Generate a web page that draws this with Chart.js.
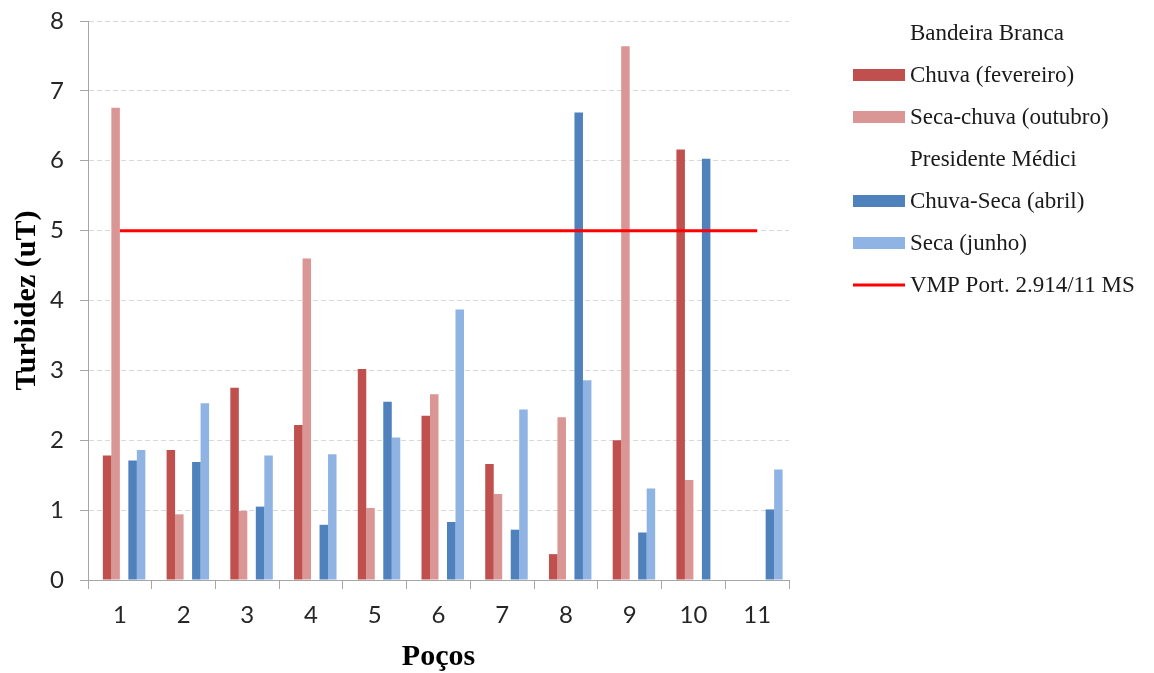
<!DOCTYPE html>
<html>
<head>
<meta charset="utf-8">
<script src="https://cdn.jsdelivr.net/npm/chart.js@4"></script>
<style>
  html, body { margin: 0; padding: 0; background: #fff; }
  #wrap { width: 1154px; height: 673px; position: relative; }
</style>
</head>
<body>
<div id="wrap"><canvas id="turbidezChart"></canvas></div>
<script>
// ==========================
// DADOS
// ==========================
const pocos = ['1', '2', '3', '4', '5', '6', '7', '8', '9', '10', '11'];

// Bandeira Branca
const chuvaFevereiro = [1.78, 1.86, 2.75, 2.22, 3.02, 2.35, 1.66, 0.37, 2.00, 6.16, null];
const secaChuvaOutubro = [6.76, 0.94, 0.99, 4.60, 1.03, 2.66, 1.23, 2.33, 7.64, 1.43, null];

// Presidente Médici
const chuvaSecaAbril = [1.71, 1.69, 1.05, 0.79, 2.55, 0.83, 0.72, 6.69, 0.68, 6.03, 1.01];
const secaJunho = [1.86, 2.53, 1.78, 1.80, 2.04, 3.87, 2.44, 2.86, 1.31, null, 1.58];

// valor máximo permitido
const vmp = pocos.map(() => 5);

const yTicks = [0, 1, 2, 3, 4, 5, 6, 7, 8];

const vazio = pocos.map(() => null);


// ==========================
// LEGENDA
// ==========================
const legendaPlugin = {
    id: 'legenda',
    afterDraw(chart) {
        const ctx = chart.ctx;
        const x0 = chart.chartArea.right + 64;
        let y = 33;
        ctx.save();
        ctx.font = '23px "Liberation Serif"';
        ctx.textBaseline = 'middle';
        ctx.textAlign = 'left';
        chart.data.datasets.forEach(ds => {
            if (ds.type === 'line') {
                ctx.strokeStyle = ds.borderColor;
                ctx.lineWidth = 3;
                ctx.beginPath();
                ctx.moveTo(x0, y);
                ctx.lineTo(x0 + 52, y);
                ctx.stroke();
            } else if (ds.data.some(v => v !== null)) {
                ctx.fillStyle = ds.backgroundColor;
                ctx.fillRect(x0, y - 6, 52, 12);
            }
            ctx.fillStyle = '#1a1a1a';
            ctx.fillText(ds.label, x0 + 57, y + 1);
            y += 42;
        });
        ctx.restore();
    }
};


// ==========================
// GRAFICO
// ==========================
const ctx = document.getElementById('turbidezChart').getContext('2d');

const turbidezChart = new Chart(ctx, {

    type: 'bar',

    data: {

        labels: pocos,

        datasets: [
            { label: 'Bandeira Branca', data: vazio, backgroundColor: 'rgba(0,0,0,0)' },
            { label: 'Chuva (fevereiro)', data: chuvaFevereiro, backgroundColor: '#C0504D' },
            { label: 'Seca-chuva (outubro)', data: secaChuvaOutubro, backgroundColor: '#D99694' },
            { label: 'Presidente Médici', data: vazio, backgroundColor: 'rgba(0,0,0,0)' },
            { label: 'Chuva-Seca (abril)', data: chuvaSecaAbril, backgroundColor: '#4F81BD' },
            { label: 'Seca (junho)', data: secaJunho, backgroundColor: '#8FB4E3' },
            {
                type: 'line',
                label: 'VMP Port. 2.914/11 MS',
                data: vmp,
                borderColor: '#FF0000',
                borderWidth: 3,
                pointRadius: 0,
                fill: false,
                order: -1
            }
        ]

    },

    options: {

        responsive: true,

        maintainAspectRatio: false,

        animation: false,

        layout: {
            padding: { top: 21, right: 365, left: 0, bottom: 0 }
        },

        datasets: {
            bar: { categoryPercentage: 0.8, barPercentage: 1.0 }
        },

        plugins: {
            legend: { display: false },
            tooltip: { enabled: false }
        },

        scales: {

            x: {
                afterFit: (scale) => { scale.height = 93; },
                grid: {
                    offset: true,
                    drawOnChartArea: false,
                    drawTicks: true,
                    tickLength: 9,
                    tickColor: '#A6A6A6'
                },
                border: { color: '#A6A6A6', width: 1 },
                ticks: {
                    color: '#262626',
                    padding: 12,
                    font: { family: 'Lato', size: 24 }
                },
                title: {
                    display: true,
                    text: 'Poços',
                    color: '#000',
                    padding: { top: 0, bottom: 1 },
                    font: { family: 'Liberation Serif', size: 30, weight: 'bold', lineHeight: 1 }
                }
            },

            y: {
                min: 0,
                max: 8,
                afterFit: (scale) => {
                    scale.width = 88;
                    scale.paddingTop = 0;
                    scale.paddingBottom = 0;
                },
                afterBuildTicks: (scale) => {
                    scale.ticks = yTicks.map(v => ({ value: v }));
                },
                grid: {
                    color: '#D9D9D9',
                    lineWidth: 1,
                    tickLength: 8,
                    tickColor: '#A6A6A6',
                    tickBorderDash: []
                },
                border: { color: '#A6A6A6', width: 1, dash: [5, 3] },
                ticks: {
                    color: '#262626',
                    padding: 16,
                    font: { family: 'Lato', size: 24 }
                },
                title: {
                    display: true,
                    text: 'Turbidez (uT)',
                    color: '#000',
                    padding: { top: 12, bottom: 0 },
                    font: { family: 'Liberation Serif', size: 30, weight: 'bold', lineHeight: 1 }
                }
            }

        }

    },

    plugins: [legendaPlugin]

});
</script>
</body>
</html>
